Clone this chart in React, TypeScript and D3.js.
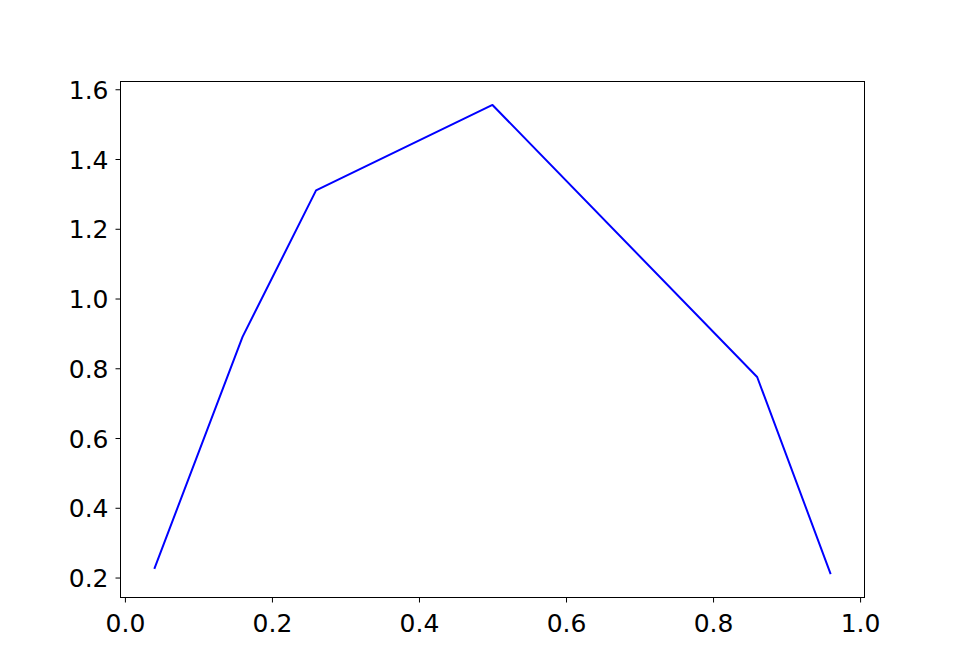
import React, { useEffect, useRef } from 'react'
import * as d3 from 'd3'

const xValues = [0.04, 0.16, 0.26, 0.5, 0.86, 0.96]
const yValues = [0.225, 0.89, 1.31, 1.555, 0.775, 0.21]
const xTicks = [0, 0.2, 0.4, 0.6, 0.8, 1.0]
const yTicks = [0.2, 0.4, 0.6, 0.8, 1.0, 1.2, 1.4, 1.6]

const W = 960
const H = 672
const margin = { top: 81.5, right: 95.5, bottom: 74.5, left: 120.5 }

function padded(vals: number[]): [number, number] {
  const [lo, hi] = d3.extent(vals) as [number, number]
  const m = (hi - lo) * 0.05
  return [lo - m, hi + m]
}

export default function App() {
  const ref = useRef<SVGSVGElement>(null)

  useEffect(() => {
    document.body.style.margin = '0'
    const width = W - margin.left - margin.right
    const height = H - margin.top - margin.bottom

    const x = d3.scaleLinear().domain(padded(xValues)).range([0, width])
    const y = d3.scaleLinear().domain(padded(yValues)).range([height, 0])

    const svg = d3.select(ref.current)
    svg.selectAll('*').remove()
    const g = svg.append('g').attr('transform', `translate(${margin.left},${margin.top})`)

    const pts = xValues.map((v, i) => [v, yValues[i]] as [number, number])
    const line = d3.line<[number, number]>()
      .x(d => x(d[0]))
      .y(d => y(d[1]))

    g.append('path')
      .datum(pts)
      .attr('fill', 'none')
      .attr('stroke', '#0000ff')
      .attr('stroke-width', 2)
      .attr('stroke-linejoin', 'round')
      .attr('d', line)

    const xAxis = d3.axisBottom(x).tickValues(xTicks).tickFormat(d3.format('.1f')).tickSize(5).tickPadding(6)
    const yAxis = d3.axisLeft(y).tickValues(yTicks).tickFormat(d3.format('.1f')).tickSize(5).tickPadding(7)

    const gx = g.append('g').attr('transform', `translate(0,${height})`).call(xAxis)
    const gy = g.append('g').call(yAxis)

    ;[gx, gy].forEach(a => {
      a.select('.domain').remove()
      a.selectAll('line').attr('stroke', '#000').attr('stroke-width', 1)
      a.selectAll('text')
        .attr('fill', '#000')
        .style('font-family', 'DejaVu Sans')
        .style('font-size', '25px')
    })
    gx.selectAll('text').attr('dy', '0.95em')
    gy.selectAll('text').attr('dy', '0.36em')

    g.append('rect')
      .attr('width', width)
      .attr('height', height)
      .attr('fill', 'none')
      .attr('stroke', '#000')
      .attr('stroke-width', 1)
  }, [])

  return (
    <svg ref={ref} width={W} height={H} style={{ position: 'absolute', left: 0, top: 0, background: '#fff' }} />
  )
}
